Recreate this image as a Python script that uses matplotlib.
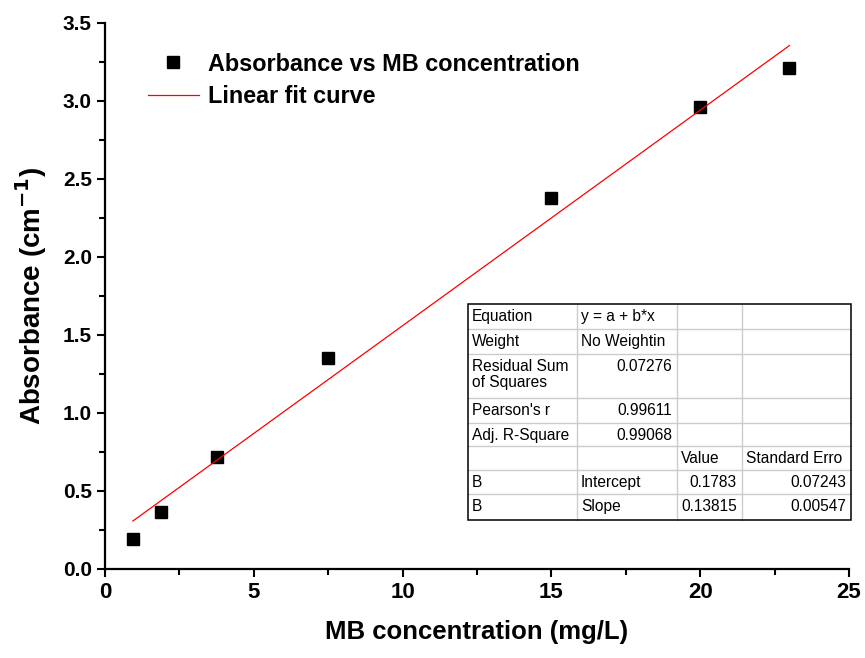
import numpy as np
import matplotlib.pyplot as plt
import matplotlib as mpl
from matplotlib.patches import Rectangle

mpl.rcParams['font.family'] = ['Liberation Sans', 'DejaVu Sans']

# data
conc = [0.9375, 1.875, 3.75, 7.5, 15, 20, 23]
absorb = [0.19, 0.365, 0.72, 1.35, 2.38, 2.96, 3.21]
intercept = 0.1783
slope = 0.13815

table_rows = [
    ['Equation', 'y = a + b*x', '', ''],
    ['Weight', 'No Weightin', '', ''],
    ['Residual Sum\nof Squares', '0.07276', '', ''],
    ["Pearson's r", '0.99611', '', ''],
    ['Adj. R-Square', '0.99068', '', ''],
    ['', '', 'Value', 'Standard Erro'],
    ['B', 'Intercept', '0.1783', '0.07243'],
    ['B', 'Slope', '0.13815', '0.00547'],
]
# 'l' left, 'r' right
table_align = [
    ['l', 'l', 'l', 'l'],
    ['l', 'l', 'l', 'l'],
    ['l', 'r', 'l', 'l'],
    ['l', 'r', 'l', 'l'],
    ['l', 'r', 'l', 'l'],
    ['l', 'l', 'l', 'l'],
    ['l', 'l', 'r', 'r'],
    ['l', 'l', 'r', 'r'],
]

W, H = 865, 658
fig = plt.figure(figsize=(W / 100, H / 100), dpi=100)
ax = fig.add_axes([105 / W, 1 - 569 / H, (849 - 105) / W, (569 - 23) / H])

ax.plot(conc, absorb, 's', color='black', markersize=8, label='Absorbance vs MB concentration')
xf = np.array([conc[0], conc[-1]])
ax.plot(xf, intercept + slope * xf, '-', color='red', lw=0.9, label='Linear fit curve')

ax.set_xlim(0, 25)
ax.set_ylim(0, 3.5)
ax.set_xticks(np.arange(0, 26, 5))
ax.set_yticks(np.arange(0, 3.51, 0.5))
ax.set_xticks(np.arange(2.5, 25, 5), minor=True)
ax.set_yticks(np.arange(0.25, 3.5, 0.5), minor=True)
ax.spines['top'].set_visible(False)
ax.spines['right'].set_visible(False)
for s in ['left', 'bottom']:
    ax.spines[s].set_linewidth(1.6)
ax.tick_params(which='major', direction='out', length=6, width=1.5)
ax.tick_params(which='minor', direction='out', length=4, width=1.5)
for lab in ax.get_xticklabels():
    lab.set_fontweight('bold')
    lab.set_fontsize(16)
for lab in ax.get_yticklabels():
    lab.set_fontweight('bold')
    lab.set_fontsize(15)

ax.set_xlabel('MB concentration (mg/L)', fontsize=18.5, fontweight='bold', labelpad=12)
ax.set_ylabel('Absorbance (cm$^{\\mathbf{-1}}$)', fontsize=20, fontweight='bold', labelpad=10)

leg = ax.legend(loc='center left', bbox_to_anchor=(0.045, 0.895), frameon=False,
                prop={'weight': 'bold', 'size': 16.8}, handlelength=2.2,
                handletextpad=0.4, labelspacing=0.4, borderaxespad=0)

# fit results table drawn in pixel coordinates
tax = fig.add_axes([0, 0, 1, 1])
tax.set_xlim(0, W)
tax.set_ylim(H, 0)
tax.axis('off')
cols = [468, 577, 677, 742, 851]
rows = [304, 329, 354, 398, 423, 446, 470, 494, 520]
tax.add_patch(Rectangle((cols[0], rows[0]), cols[-1] - cols[0], rows[-1] - rows[0],
                        facecolor='white', edgecolor='none', zorder=1))
for c in cols[1:-1]:
    tax.plot([c, c], [rows[0], rows[-1]], color='#cccccc', lw=1, zorder=2)
for r in rows[1:-1]:
    tax.plot([cols[0], cols[-1]], [r, r], color='#cccccc', lw=1, zorder=2)
tax.add_patch(Rectangle((cols[0], rows[0]), cols[-1] - cols[0], rows[-1] - rows[0],
                        facecolor='none', edgecolor='black', lw=1.1, zorder=3))
for i, row in enumerate(table_rows):
    for j, txt in enumerate(row):
        if not txt:
            continue
        if table_align[i][j] == 'l':
            tax.text(cols[j] + 4, rows[i] + 5, txt, ha='left', va='top', fontsize=11.2,
                     linespacing=1.1, zorder=4)
        else:
            tax.text(cols[j + 1] - 5, rows[i] + 5, txt, ha='right', va='top', fontsize=11.2,
                     linespacing=1.1, zorder=4)

fig.savefig('out.png', dpi=100)
